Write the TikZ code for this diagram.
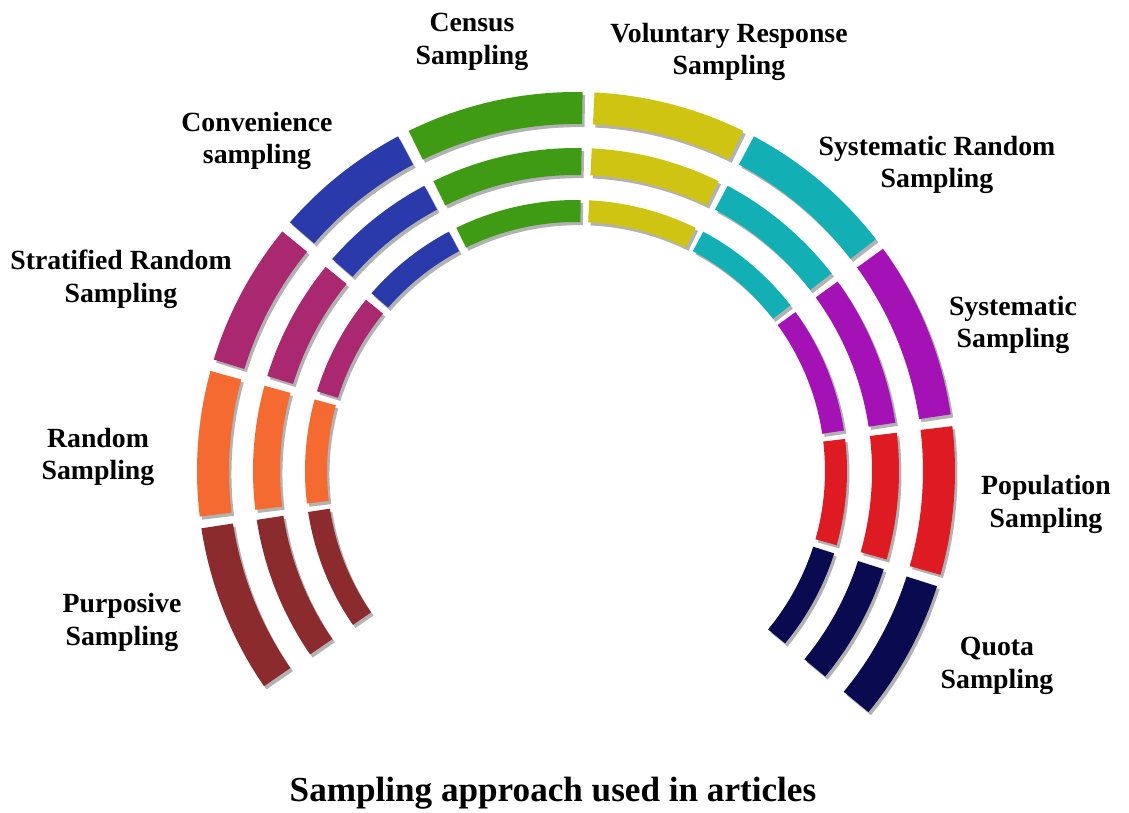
\documentclass[tikz,border=0pt]{standalone}
\usepackage{fontspec}
\setmainfont{Liberation Serif}
\usepackage{tikz}
\usetikzlibrary{shadows}

\definecolor{purposive}{RGB}{139,43,46}
\definecolor{randomc}{RGB}{244,106,48}
\definecolor{stratified}{RGB}{170,40,112}
\definecolor{convenience}{RGB}{42,58,170}
\definecolor{census}{RGB}{63,155,20}
\definecolor{voluntary}{RGB}{207,196,18}
\definecolor{sysrandom}{RGB}{18,176,181}
\definecolor{systematic}{RGB}{164,18,181}
\definecolor{population}{RGB}{222,26,35}
\definecolor{quota}{RGB}{10,10,80}

% one piece of a ring: from angle, to angle, outer radius, inner radius, colour
\newcommand{\arcseg}[5]{\fill [seg, fill=#5] (#1:#3) arc (#1:#2:#3) -- (#2:#4) arc (#2:#1:#4) -- cycle;}
% the same piece on all three rings
\newcommand{\sampseg}[3]{\arcseg{#1}{#2}{379}{347}{#3}\arcseg{#1}{#2}{323}{296}{#3}\arcseg{#1}{#2}{271}{249}{#3}}

\begin{document}
\begin{tikzpicture}[x=0.02cm, y=0.02cm,
    seg/.style={drop shadow={shadow xshift=1.4pt, shadow yshift=-1.8pt, opacity=.3, fill=black}},
    lbl/.style={font=\bfseries\fontsize{15.8}{18.7}\selectfont, align=center}]

    \useasboundingbox (-576, -341) rectangle (553, 471);

    \sampseg{214.6}{188.7}{purposive}
    \sampseg{186.9}{164.7}{randomc}
    \sampseg{162.9}{140.8}{stratified}
    \sampseg{139.0}{118.0}{convenience}
    \sampseg{116.2}{89.0}{census}
    \sampseg{87.2}{63.8}{voluntary}
    \sampseg{62.0}{37.7}{sysrandom}
    \sampseg{35.9}{8.6}{systematic}
    \sampseg{6.8}{-15.9}{population}
    \sampseg{-17.7}{-39.5}{quota}

    \node [lbl] (l_census) at (-104, 429) {Census\\Sampling};
    \node [lbl] (l_voluntary) at (153, 419) {Voluntary Response\\Sampling};
    \node [lbl] (l_convenience) at (-319, 330) {Convenience\\sampling};
    \node [lbl] (l_sysrandom) at (361, 306) {Systematic Random\\Sampling};
    \node [lbl] (l_stratified) at (-455, 192) {Stratified Random\\Sampling};
    \node [lbl] (l_systematic) at (437, 146) {Systematic\\Sampling};
    \node [lbl] (l_random) at (-478, 14) {Random\\Sampling};
    \node [lbl] (l_population) at (470, -33) {Population\\Sampling};
    \node [lbl] (l_purposive) at (-454, -151) {Purposive\\Sampling};
    \node [lbl] (l_quota) at (421, -195) {Quota\\Sampling};

    \node [font=\bfseries\fontsize{20}{24}\selectfont] (title) at (-23, -322) {Sampling approach used in articles};

  \end{tikzpicture}
\end{document}
